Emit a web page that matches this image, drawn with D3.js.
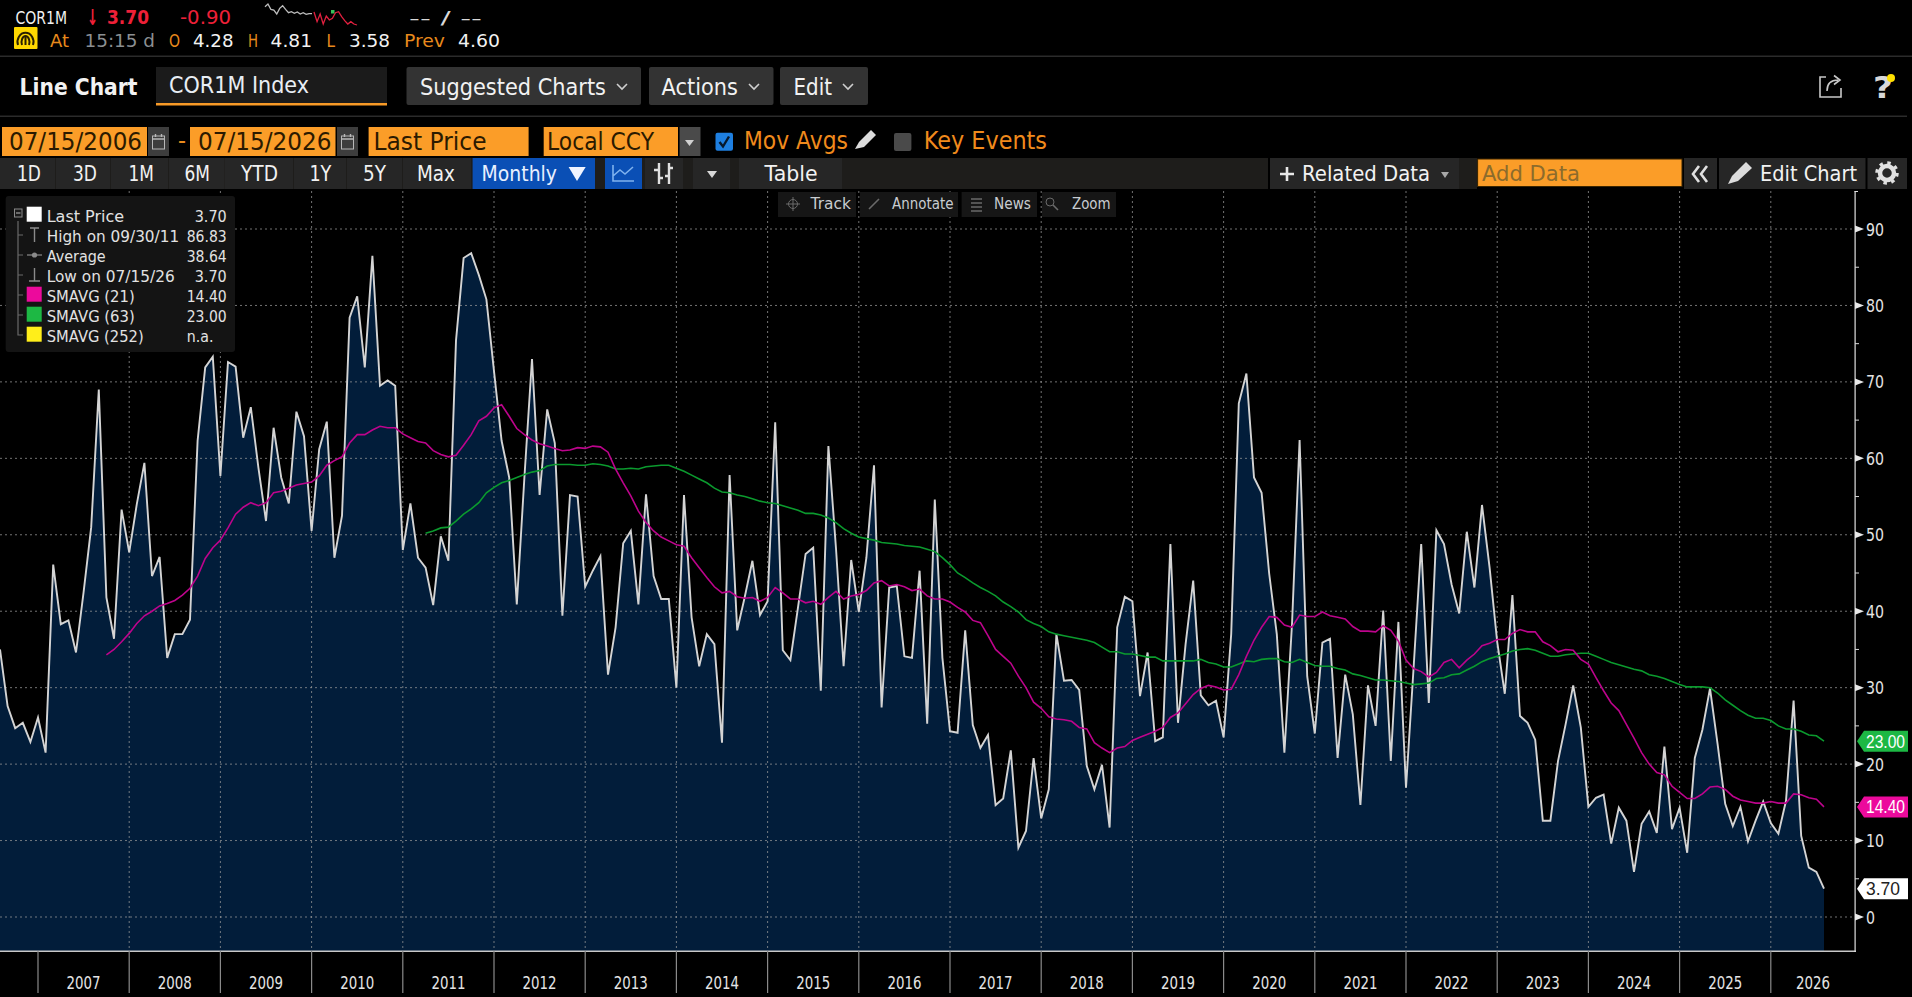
<!DOCTYPE html>
<html><head><meta charset="utf-8">
<script src="https://cdn.jsdelivr.net/npm/d3@7"></script>
<style>html,body{margin:0;padding:0;background:#000;overflow:hidden}svg{display:block}text{font-family:"DejaVu Sans",sans-serif}</style>
</head><body><svg id="c" width="1912" height="997"></svg>
<script>
// monthly last price, Jul 2006 .. Jul 2026
const price=[35.0,27.6,24.7,25.4,22.9,26.1,21.5,46.1,38.3,38.8,
34.6,42.5,51,69,41.8,36.4,53.3,47.7,54,59.4,
44.6,47.1,33.9,37,37,38.9,62.3,71.9,73.3,57.7,
72.6,72,62.7,66.7,58.8,51.8,64,57.5,54.1,66.1,
62.9,50.5,61.2,64.8,47,52.5,78.4,81.2,71.9,86.5,
69.5,70.2,69.5,48,54.1,47,45.7,40.8,49.8,46.6,
75.4,86.2,86.83,84,80.8,71.4,62.3,57.5,40.9,57.5,
73,55.2,66.4,62,39.4,55.2,55,43.2,45.3,47.2,
31.7,37.9,48.9,50.5,40.9,55.3,44.6,41.6,41.6,30,
55.2,39.2,32.8,37,35.7,22.8,57.8,37.5,41.9,46.6,
39.5,41.3,64.7,34.9,33.6,40.5,47.5,48.3,29.6,61.6,
48.2,32.8,46.7,39.9,47,59.1,27.4,43.1,43.3,34.1,
33.9,45.3,25.3,54.6,33.9,24.3,24.1,37.5,25.1,22.1,
23.8,14.65,15.5,21.8,9.07,11.25,20.8,12.9,16.7,37,
30.9,31,29.7,19.75,16.7,19.9,11.7,37.9,41.9,41.3,
28.9,34.6,23,23.5,48.8,25.4,35.7,44,29,27.7,
28.3,23.5,37,67.2,71.1,57.5,55.5,44.9,37,21.5,
38.3,62.4,31.5,24,35.9,36.4,20.8,31.7,26.5,14.65,
30.3,25,40.1,20.4,38.6,16.9,32.6,48.8,28,50.6,
48.8,43.5,39.7,50.4,43.1,53.9,45.7,36,29.2,42.1,
26.3,25.4,23.2,12.6,12.6,20.4,25.2,30.3,24.8,14.4,
15.6,16,9.6,14.3,12.6,5.9,12.2,13.8,11,22.3,
11.5,14.3,8.4,20.8,24.5,29.9,22.6,14.8,11.9,14.4,
9.9,12.6,15.1,12.3,10.9,15.2,28.3,10.6,6.45,5.9,
3.7];
// SMAVG(21), first visible at month 14
const sma21Start=14;
const sma21=[34.3,35,36,37.1,38.4,39.4,40,40.7,41,41.4,42.1,43,44.6,46.9,48.3,49.3,50.9,52.7,53.6,54.2,53.8,54.2,55.5,55.7,56.1,56.5,56.7,56.9,
57.7,59.1,59.7,60.2,62,63.1,63.1,63.7,64.2,64,64,63.2,62.7,62.2,62,61,60.5,60.2,60.4,61.7,63.1,64.9,65.5,66.6,67,65.5,63.9,63.1,62.4,61.9,61.6,61.3,61,61.1,61.4,61.3,61.6,61.5,60.8,58.6,56.8,55.1,53.1,51.6,50.5,49.7,49.2,48.7,48.5,47,45.7,44.4,43.2,42.4,42.6,41.9,41.7,41.8,41.3,41.8,43.1,42.4,41.6,41.6,41.1,41.3,40.9,41.8,42.6,41.6,42,42.2,42.7,43.7,44,43.3,43.5,43.2,42.7,42.9,42,
41.6,41.6,41.2,40.5,39.9,38.8,38.5,36.8,35,34.1,33.2,31.5,30,28.1,27.3,26.2,25.9,25.8,25.6,24.8,24.6,22.8,22.1,21.5,22.1,22.3,23.1,23.5,23.9,24.3,24.8,26.1,26.7,27.9,29.1,29.9,30.3,30.1,29.7,29.8,31.7,34.1,36.2,37.9,39.3,39.2,38.2,37.9,39.5,39.3,39.3,39.9,39.4,39.2,39,38,37.4,37.4,37.3,38.1,37.5,36.1,33.6,32.5,32.1,
31.4,32,33.3,33.7,32.6,33.6,34.4,35.5,35.8,36.3,36.3,37.1,37.6,37.3,37.3,36,35.5,34.7,35,34.9,33.7,33.1,31.3,29.6,28,27,25.2,23.4,21.5,20,18.9,18.6,17.1,16.3,15.5,15.5,16.1,17,17.1,16.7,15.8,15.3,15.1,14.9,14.9,15.1,14.9,14.9,16.1,16,15.6,15.4,14.4];
// SMAVG(63), first visible at month 56
const sma63Start=56;
const sma63=[50.2,50.5,50.9,51,51.8,52.7,53.4,54.2,55.5,56.2,56.8,57.1,57.5,57.9,58.2,58.4,59,59.2,59.2,59.2,59.1,59.1,59.3,59.2,59,58.6,58.6,58.7,58.6,58.9,59,59.1,59.1,58.7,58.3,57.8,57.3,56.8,56.1,55.6,55.5,55.2,55,54.7,54.4,54.2,54.1,53.8,53.5,53.2,52.8,52.8,52.6,52.2,51.6,50.8,50.2,49.7,49.5,49.3,49,48.9,48.8,48.6,48.5,48.4,48.1,47.8,47,
46.1,45,44.4,43.7,43.1,42.6,42,41.2,40.6,39.9,38.9,38.4,38,37.3,37,36.8,36.6,36.4,36.2,35.9,35.3,34.7,34.7,34.4,34.4,34.2,34,34,33.5,33.5,33.5,33.5,33.5,33.7,33.3,33.1,32.7,32.7,33.1,33.5,33.4,33.7,33.8,33.8,33.4,33.3,33.7,33.3,32.9,32.8,32.8,32.5,32.3,31.8,31.6,31.3,31,31,30.9,30.8,30.6,30.4,30.5,
30.6,31.2,31.3,31.7,31.8,32.3,32.8,33.4,33.8,34.1,34.4,34.8,35,35.1,34.9,34.5,34.1,34.1,34.3,34.4,34.5,34.5,34.1,33.7,33.3,33,32.7,32.4,32.2,31.7,31.5,31.2,30.8,30.4,30.1,30.1,30.1,30,29.3,28.4,27.7,27,26.4,26,26,25.7,25,24.6,24.6,24.3,23.8,23.7,23];
const yearLabels=[2007,2008,2009,2010,2011,2012,2013,2014,2015,2016,2017,2018,2019,2020,2021,2022,2023,2024,2025,2026];
const yMajor=[0,10,20,30,40,50,60,70,80,90];
const yMinor=[5,15,25,35,45,55,65,75,85];
const legendRows=[["Last Price","3.70","#ffffff"],["High on 09/30/11","86.83",null],["Average","38.64",null],["Low on 07/15/26","3.70",null],["SMAVG (21)","14.40","#ec0a9c"],["SMAVG (63)","23.00","#1db844"],["SMAVG (252)","n.a.","#ffee1a"]];
const endTags=[[23.00,"23.00","#1db844","#fff"],[14.40,"14.40","#ec0a9c","#fff"],[3.70,"3.70","#ffffff","#222"]];
const rangeButtons=["1D","3D","1M","6M","YTD","1Y","5Y","Max"];
const sparkGrey=[70,78,62,60,48,65,73,62,52,55,50,54,48,52,47,49,49];
const sparkRed=[54,25,48,18,42,30,35,52,55,40,28,18,25,18,15];

const svg=d3.select("#c");
const x=d3.scaleLinear().domain([0,240]).range([0,1824]);
const y=d3.scaleLinear().domain([0,90]).range([917,229]);
const plotBottom=951,plotTop=191,axisX=1855;

function R(x0,y0,x1,y1,fill,rx,stroke){const r=svg.append("rect").attr("x",x0).attr("y",y0).attr("width",x1-x0).attr("height",y1-y0).attr("fill",fill);if(rx)r.attr("rx",rx);if(stroke)r.attr("stroke",stroke);return r;}
function T(s,x0,x1,base,size,fill,weight){const t=svg.append("text").attr("x",x0).attr("y",base).attr("font-size",size).attr("fill",fill).text(s);if(weight)t.attr("font-weight",weight);if(x1)t.attr("textLength",x1-x0).attr("lengthAdjust","spacingAndGlyphs");return t;}
function P(d,fill,stroke,sw){return svg.append("path").attr("d",d).attr("fill",fill||"none").attr("stroke",stroke||"none").attr("stroke-width",sw||1);}

/* ---------- chart ---------- */
const area=d3.area().x((d,i)=>x(i)).y0(plotBottom).y1(d=>y(d));
svg.append("path").datum(price).attr("d",area).attr("fill","#021d3a");
// grid
const gridCol="#9a9a9a";
svg.append("g").selectAll("line").data(yMajor).join("line").attr("x1",0).attr("x2",axisX).attr("y1",d=>y(d)).attr("y2",d=>y(d)).attr("stroke",gridCol).attr("stroke-opacity",.75).attr("stroke-width",1).attr("stroke-dasharray","2 3");
const yearTickIdx=yearLabels.map(yr=>(yr-2007)*12+5);
svg.append("g").selectAll("line").data(yearTickIdx.slice(1)).join("line").attr("x1",d=>x(d)).attr("x2",d=>x(d)).attr("y1",plotTop).attr("y2",plotBottom).attr("stroke",gridCol).attr("stroke-opacity",.75).attr("stroke-dasharray","2 3");
// moving averages + price
const line=s=>d3.line().x((d,i)=>x(i+s)).y(d=>y(d));
svg.append("path").attr("d",line(0)(price)).attr("fill","none").attr("stroke","#d4d4d4").attr("stroke-width",1.9).attr("stroke-linejoin","miter");
svg.append("path").attr("d",line(sma63Start)(sma63)).attr("fill","none").attr("stroke","#0b9a2e").attr("stroke-width",1.6);
svg.append("path").attr("d",line(sma21Start)(sma21)).attr("fill","none").attr("stroke","#bd048c").attr("stroke-width",1.6);

// axes
const axisCol="#c8c8c8";
R(0,plotBottom-.5,axisX+1,plotBottom+1,axisCol);
R(axisX-.5,plotTop,axisX+.7,plotBottom+1,"#e0e0e0");
R(axisX-.5,plotTop,axisX+3,plotTop+1,"#e0e0e0");
svg.append("g").selectAll("line").data(yearTickIdx).join("line").attr("x1",d=>x(d)).attr("x2",d=>x(d)).attr("y1",plotBottom).attr("y2",993).attr("stroke","#8a8a8a").attr("stroke-width",1.2);
yearLabels.forEach((yr,k)=>{const a=x(yearTickIdx[k]),b=k<yearLabels.length-1?x(yearTickIdx[k+1]):axisX;
 svg.append("text").attr("x",(a+b)/2).attr("y",989).attr("text-anchor","middle").attr("font-size",18).attr("fill","#e4e4e4").attr("textLength",34).attr("lengthAdjust","spacingAndGlyphs").text(yr);});
svg.append("g").selectAll("path").data(yMajor).join("path").attr("d",d=>`M${axisX},${y(d)-3.5}L${axisX+9},${y(d)}L${axisX},${y(d)+3.5}Z`).attr("fill","#e8e8e8");
svg.append("g").selectAll("line").data(yMinor).join("line").attr("x1",axisX).attr("x2",axisX+4).attr("y1",d=>y(d)).attr("y2",d=>y(d)).attr("stroke","#d8d8d8");
svg.append("g").selectAll("text").data(yMajor).join("text").attr("x",axisX+11).attr("y",d=>y(d)+6.5).attr("font-size",18).attr("fill","#e4e4e4").attr("textLength",d=>d===0?9:18).attr("lengthAdjust","spacingAndGlyphs").text(d=>d);
// end tags
endTags.forEach(([v,s,c,tc])=>{const m=y(v);
 P(`M1857,${m}L1864,${m-10.5}H1908V${m+10.5}H1864Z`,c);
 T(s,1866,v<10?1900:1905,m+6.5,18,tc).style("font-family","'Liberation Sans',sans-serif");
});

/* ---------- ticker ---------- */
const W="#f2f2f2",O="#e88a1c",RD="#ee2038",GY="#8b8f92";
T("COR1M",15.5,67,24,18,W);
T("↓",87,98,25,22,RD,"bold");
T("3.70",107,149,24,20,RD,"bold");
T("-0.90",180,231,24,19,RD);
T("-- / --",409,482,24,18,"#d8d8d8");
// sparkline
const sx=d3.scaleLinear().domain([0,16]).range([265,312]);
const sy=d3.scaleLinear().domain([0,90]).range([30,0]);
P(d3.line().x((d,i)=>sx(i)).y(d=>sy(d))(sparkGrey),null,"#bdbdbd",1.3);
const sx2=d3.scaleLinear().domain([0,14]).range([314,357]);
P(d3.line().x((d,i)=>sx2(i)).y(d=>sy(d))(sparkRed),null,"#e0203f",1.3);
R(331,10,334.5,13.5,"#35c25a");
// gauge icon
R(14,27,37.5,49,"#ffd800",1);
P("M18,45 a8 9 0 1 1 15 0 M22,45 a4 6 0 1 1 7 0 M25.5,36V45",null,"#2a2000",2);
T("At",50,69,47,18,O);
T("15:15 d",84.5,155,47,18,GY);
T("O",169,180,47,18,O);T("4.28",193,233.5,47,18,W);
T("H",248,258,47,18,O);T("4.81",270.6,312,47,18,W);
T("L",326.5,335,47,18,O);T("3.58",349,390,47,18,W);
T("Prev",404,445,47,18,O);T("4.60",458,500,47,18,W);
R(0,55.5,1912,57,"#2b2b2b");

/* ---------- title row ---------- */
T("Line Chart",19.6,137.5,95,23,W,"bold");
R(156,67,387,103,"#1b1b1b");R(156,103,387,105.5,"#f79a27");
T("COR1M Index",169,309,93,23,"#e8eef4");
const btnFill="#333333";
R(406.5,67,641,105,btnFill,2);T("Suggested Charts",420,606,95,23.5,W);
R(649,67,773.5,105,btnFill,2);T("Actions",661.6,738,95,23.5,W);
R(780,67,868,105,btnFill,2);T("Edit",793.5,832,95,23.5,W);
[622,754,848].forEach(cx=>P(`M${cx-5},84L${cx},89L${cx+5},84`,null,"#cfcfcf",1.6));
// share and help
P("M1826,77H1820V97H1841V88",null,"#c8c8c8",1.6);
P("M1827,91c0,-8 5,-11 11,-11M1834,75.5L1840,80L1834,84.5",null,"#c8c8c8",1.6);
T("?",1873,1893,98,30,"#d8d8d8","bold");
svg.append("circle").attr("cx",1891).attr("cy",78).attr("r",4).attr("fill","#ffe000");
R(0,115.5,1907,117,"#2b2b2b");

/* ---------- date row ---------- */
const OR="#fb9d28",DK="#2b1a00";
function cal(a,b){R(a,127,b,156,"#3d3d3d");const m=(a+b)/2;R(m-6,136,m+6,149,"none",0,"#b8b8b8");P(`M${m-6},139H${m+6}M${m-3},134V137M${m+3},134V137`,null,"#b8b8b8",1.4);}
R(2,127,147,156,OR);T("07/15/2006",9,142,150,25,DK);cal(148,169);
T("-",178,186,149,24,O);
R(190,127,335.5,156,OR);T("07/15/2026",198,331.5,150,25,DK);cal(337,358);
R(368.6,127,528.6,156,OR);T("Last Price",373.5,486.5,150,25,DK);
R(543.7,127,678,156,OR);T("Local CCY",547,654,150,25,DK);
R(679.6,127,700.5,156,"#4a4a4a");P("M685,140L694,140L689.5,146Z","#d0d0d0");
R(715.5,132.7,733,150.7,"#1e7fe0",2);P("M719.5,142L723,146.5L729,136.5",null,"#06182c",2.4);
T("Mov Avgs",744,848,149,25,"#f08a1c");
P("M855,149L859,142L871,130L876,135L864,147Z","#dcdcdc");
R(894,133,911.4,151,"#4a4a4a",2);
T("Key Events",923.7,1047,149,25,"#f08a1c");

/* ---------- button row ---------- */
R(0,158,1268,189,"#1e1d1b");
R(1270,158,1459,189,"#262626");R(1459,158,1477,189,"#1e1d1b");
const btnX=[[0,55,17,41],[56,110,73,97],[111,168,128.6,154],[169,224.5,184.5,210],[225,293,241,278],[294,346,309.4,331.4],[347,402,363,386],[403,471,417,455]];
rangeButtons.forEach((s,k)=>{const b=btnX[k];R(b[0],158,b[1],189,"#262626");T(s,b[2],b[3],181,22,W);});
R(472.6,158,595,189,"#0a4fb5");T("Monthly",481.6,557,181,22,"#e8f0ff");P("M568.6,167H585.7L577,181Z","#f0f4ff");
R(605,158,642,189,"#0a4fb5");P("M613,165V181H634M613,176L620,170L625,174L633,167",null,"#7fb2ee",1.6);
R(645,158,683,189,"#262626");P("M659,163V184M669,163V184M659,170H654M659,178H663M669,168H673M669,176H665",null,"#e0e0e0",2.4);
R(693,158,730,189,"#262626");P("M707,171H717L712,178Z","#d8d8d8");
R(739,158,842,189,"#262626");T("Table",764.5,817.5,181,22,W);
P("M1280,174H1294M1287,167V181",null,"#e8e8e8",2.6);
T("Related Data",1302,1430,181,22,W);P("M1441,172H1449L1445,178Z","#a8a8a8");
R(1477.6,159,1682,186.5,OR,0,"#3a2500");T("Add Data",1482,1580,181,22,"#8c6b2c");
R(1684,158,1717,189,"#262626");P("M1699,166L1693,174L1699,182M1707,166L1701,174L1707,182",null,"#e0e0e0",2.6);
R(1719,158,1865.5,189,"#262626");P("M1728,184L1732,176L1746,162L1752,168L1738,181Z","#dcdcdc");T("Edit Chart",1760,1857,181,22,W);
R(1867.5,158,1907,189,"#262626");
svg.append("circle").attr("cx",1887).attr("cy",173).attr("r",7).attr("fill","none").attr("stroke","#e0e0e0").attr("stroke-width",4.5);
svg.append("circle").attr("cx",1887).attr("cy",173).attr("r",10).attr("fill","none").attr("stroke","#e0e0e0").attr("stroke-width",3.5).attr("stroke-dasharray","3.4 4.45");

/* ---------- track row ---------- */
const trackCells=[[778,856,"Track",810.6,851],[860,958,"Annotate",892,953.5],[961.6,1037,"News",994,1031],[1042,1116,"Zoom",1072,1110.6]];
trackCells.forEach(c=>{R(c[0],192,c[1],217,"#161616");T(c[2],c[3],c[4],209,15.5,"#c8ccd0");});
svg.append("circle").attr("cx",793).attr("cy",204).attr("r",4.5).attr("fill","none").attr("stroke","#6a6a6a");P("M786,204H800M793,197V211",null,"#6a6a6a");
P("M869,209L879,199",null,"#6a6a6a",1.6);
P("M971,199H982M971,203H982M971,207H982M971,211H982",null,"#6a6a6a",1.6);
svg.append("circle").attr("cx",1050).attr("cy",202).attr("r",4).attr("fill","none").attr("stroke","#6a6a6a");P("M1053,205L1058,210",null,"#6a6a6a",1.6);

/* ---------- legend ---------- */
R(5.7,196,235,352,"#141414",3);
P("M18,221V335H23M18,235H23M18,255H23M18,275H23M18,295H23M18,315H23",null,"#6a6a6a",1.2);
R(14.5,209,22,217,"#1a1a1a",0,"#8a8a8a");P("M16,213H20.5",null,"#bcbcbc");
P("M30,228H39M34.5,228V242",null,"#8a8a8a",1.4);
P("M27,255H42",null,"#8a8a8a",1.2);svg.append("circle").attr("cx",34.5).attr("cy",255).attr("r",2.6).attr("fill","#8a8a8a");
P("M29,281H40M34.5,268V281",null,"#8a8a8a",1.4);
const legendWidths=[77.5,132.5,59,128,88,88,97];
legendRows.forEach((r,k)=>{const by=215.7+k*20;
 if(r[2])R(26.7,by-9,41.7,by+6,r[2]);
 T(r[0],46.7,46.7+legendWidths[k],by+6,16.5,"#e2e2e2");
 const w=r[1]==="n.a."?26.7:r[1].length*8;
 T(r[1],r[1]==="n.a."?186.7:226.7-w,r[1]==="n.a."?213.4:226.7,by+6,16.5,"#e2e2e2");
});
</script></body></html>
